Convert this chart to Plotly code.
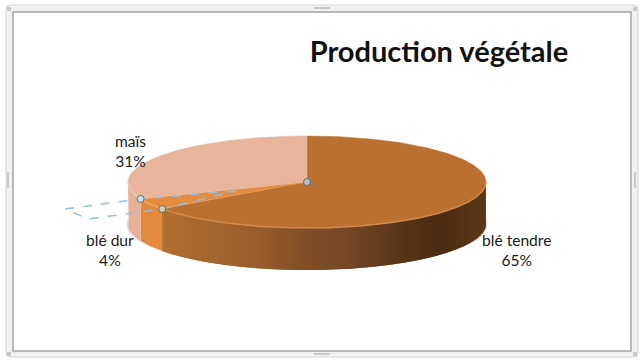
import math
import plotly.graph_objects as go

# ---- data ----
labels = ["blé tendre", "blé dur", "maïs"]
values = [65, 4, 31]
title_text = "Production végétale"
top_colors = ["#BA7031", "#E68C3F", "#E8B49B"]
rim_colors = ["#D08A4C", "#F2A766", "#F0C6B2"]
wall_stops = [(161, "#B36E30"), (250, "#9C5F2B"), (310, "#7F4D27"), (345, "#784825"),
              (400, "#573517"), (440, "#4A2C13"), (486, "#5C3817")]
wall_dur = "#E48A3E"
wall_mais = "#E6B197"
label_pos = [(516, 250), (110, 250), (130, 151)]

CX, CY, RX, RY, DEPTH = 307, 182, 179, 46, 42
total = sum(values)


def pt(frac, dy=0, grow=0):
    t = 2 * math.pi * frac
    return CX + (RX + grow) * math.sin(t), CY - (RY + grow) * math.cos(t) + dy


def arc(f0, f1, dy=0, grow=0, step=0.002):
    n = max(2, int(abs(f1 - f0) / step))
    pts = [pt(f0 + (f1 - f0) * i / n, dy, grow) for i in range(n + 1)]
    return [p[0] for p in pts], [p[1] for p in pts]


def rgb(h):
    return tuple(int(h[i:i + 2], 16) for i in (1, 3, 5))


def wall_color(x):
    x = max(wall_stops[0][0], min(wall_stops[-1][0], x))
    for (x0, c0), (x1, c1) in zip(wall_stops, wall_stops[1:]):
        if x <= x1:
            k = (x - x0) / (x1 - x0)
            a, b = rgb(c0), rgb(c1)
            return "rgb(%d,%d,%d)" % tuple(round(a[i] + (b[i] - a[i]) * k) for i in range(3))
    return wall_stops[-1][1]


fig = go.Figure()


def poly(xs, ys, color, lw=0):
    fig.add_trace(go.Scatter(x=xs, y=ys, mode="lines", fill="toself", fillcolor=color,
                             line=dict(color=color, width=lw), hoverinfo="skip", showlegend=False))


def line(xs, ys, color, width=1, dash="solid"):
    fig.add_trace(go.Scatter(x=xs, y=ys, mode="lines", line=dict(color=color, width=width, dash=dash),
                             hoverinfo="skip", showlegend=False))


# cumulative boundaries
f1 = values[0] / total
f2 = (values[0] + values[1]) / total

# soft shadow only near the two ends of the solid
for f_a, f_b in [(0.25, 0.31), (0.69, 0.75)]:
    sx, sy = arc(f_a, f_b, DEPTH, 1.5)
    tx, ty = arc(f_a, f_b, DEPTH - 6)
    poly(sx + tx[::-1], sy + ty[::-1], "#DADADA")

# front wall of the first slice, drawn as overlapping strips for the gradient
N = 70
for i in range(N):
    a = 0.25 + (f1 - 0.25) * i / N
    b = 0.25 + (f1 - 0.25) * min(N, i + 2) / N
    xs, ys = arc(a, b, step=0.001)
    xd, yd = arc(a, b, DEPTH, step=0.001)
    mid = pt(0.25 + (f1 - 0.25) * (i + 0.5) / N)[0]
    poly(xs + xd[::-1], ys + yd[::-1], wall_color(mid))

# walls of the two other slices
for f0, f_end, col in [(f1, f2, wall_dur), (f2, 0.75, wall_mais)]:
    x0, y0 = arc(f0, f_end)
    x1, y1 = arc(f0, f_end, DEPTH)
    poly(x0 + x1[::-1], y0 + y1[::-1], col)

# top faces
start = 0
for v, col in zip(values, top_colors):
    end = start + v / total
    xs, ys = arc(start, end)
    poly([CX] + xs + [CX], [CY] + ys + [CY], col, 0.5)
    start = end

# light rim on the front edge
rx_, ry_ = arc(0.25, f1)
line(rx_, ry_, rim_colors[0], 1.5)
rx_, ry_ = arc(f1, f2)
line(rx_, ry_, rim_colors[1], 1.5)
rx_, ry_ = arc(f2, 0.75)
line(rx_, ry_, rim_colors[2], 1.5)

# selection handles and dashed drag outline
p1 = pt(f1)
p2 = pt(f2)
line([235, p2[0], 65, 88, p1[0], 235], [191, p2[1], 209, 219, p1[1], 191], "#92BDE4", 1.5, "dash")
fig.add_trace(go.Scatter(x=[CX, p1[0], p2[0]], y=[CY, p1[1], p2[1]], mode="markers",
                         marker=dict(size=7, color=["#B9C0C4", "#D6CDB0", "#C4DFEE"],
                                     line=dict(color="#5F6B73", width=1)),
                         hoverinfo="skip", showlegend=False))

annotations = []
for name, v, (lx, ly) in zip(labels, values, label_pos):
    annotations.append(dict(x=lx, y=ly, xref="x", yref="y", showarrow=False,
                            text=f"{name}<br>{round(100 * v / total)}%", align="center",
                            font=dict(family="Lato", size=15.6, color="#1a1a1a")))

# chart frame
shapes = [
    dict(type="path", layer="below",
         path="M 10 5 L 634 5 Q 638 5 638 9 L 638 353 Q 638 357 634 357 L 10 357 Q 6 357 6 353 L 6 9 Q 6 5 10 5 Z",
         fillcolor="#F1F1F1", line=dict(color="#D4D4D4", width=1)),
    dict(type="rect", layer="below", x0=13, y0=12, x1=631, y1=351,
         fillcolor="#FFFFFF", line=dict(color="#A2A2A2", width=1.5)),
]
for hx, hy, w, h in [(322, 8, 16, 2), (322, 354, 16, 2), (8, 180, 2, 16), (635, 180, 2, 16),
                     (9, 9, 4, 4), (635, 9, 4, 4), (9, 354, 4, 4), (635, 354, 4, 4)]:
    shapes.append(dict(type="rect", layer="below", x0=hx - w / 2, x1=hx + w / 2, y0=hy - h / 2, y1=hy + h / 2,
                       fillcolor="#C8C8C8", line=dict(width=0)))

fig.update_layout(
    width=644, height=360, margin=dict(l=0, r=0, t=0, b=0),
    paper_bgcolor="#FFFFFF", plot_bgcolor="rgba(0,0,0,0)", showlegend=False,
    title=dict(text=title_text, x=439 / 644, y=1 - 52 / 360, xanchor="center", yanchor="middle",
               font=dict(family="Lato", size=29, color="#111111", weight="bold")),
    xaxis=dict(range=[0, 644], visible=False, fixedrange=True, domain=[0, 1]),
    yaxis=dict(range=[360, 0], visible=False, fixedrange=True, domain=[0, 1]),
    shapes=shapes, annotations=annotations,
)
fig.write_html("out.html", config=dict(displayModeBar=False),
               post_script="document.body.style.margin='0';document.body.style.overflow='hidden';")
